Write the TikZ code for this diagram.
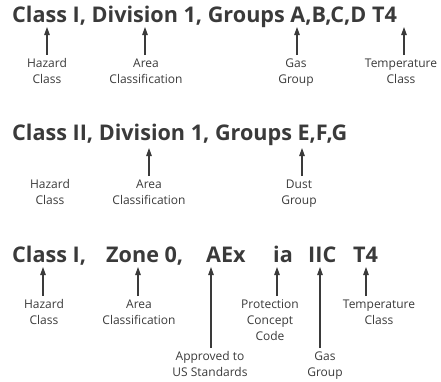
\documentclass[tikz,border=0pt]{standalone}
\usepackage{fontspec}
\setmainfont{Open Sans}
\usetikzlibrary{arrows.meta,positioning}
\definecolor{markgray}{RGB}{58,58,58}

\begin{document}
\begin{tikzpicture}[x=1pt,y=-1pt,
  title/.style={anchor=base west,inner sep=0,font=\fontsize{21.6}{26}\selectfont\bfseries,text=markgray},
  lbl/.style={anchor=base,inner sep=0,align=center,font=\fontsize{12}{16}\selectfont,text=markgray},
  arr/.style={-{Triangle[length=8pt,width=5.5pt]},line width=1.1pt,draw=markgray}]
  \useasboundingbox (0,0) rectangle (441,381);
  % Division system, gas
  \node[title] (t1) at (12,22.7) {Class I, Division 1, Groups A,B,C,D T4};
  \coordinate (c1-hz) at (47,27);
  \coordinate (c1-ar) at (145,27);
  \coordinate (c1-gg) at (297,27);
  \coordinate (c1-tc) at (404,27);
  \node[lbl] (hz1) at (47,83) {Hazard\\Class};
  \node[lbl] (ar1) at (146,83) {Area\\Classification};
  \node[lbl] (gg1) at (296,83) {Gas\\Group};
  \node[lbl] (tc1) at (401,83) {Temperature\\Class};
  \draw[arr] ([yshift=3pt]hz1.north -| c1-hz) -- (c1-hz);
  \draw[arr] ([yshift=3pt]ar1.north -| c1-ar) -- (c1-ar);
  \draw[arr] ([yshift=3pt]gg1.north -| c1-gg) -- (c1-gg);
  \draw[arr] ([yshift=3pt]tc1.north -| c1-tc) -- (c1-tc);
  % Division system, dust
  \node[title] (t2) at (12,140) {Class II, Division 1, Groups E,F,G};
  \coordinate (c2-ar) at (149,148);
  \coordinate (c2-dg) at (302,148);
  \node[lbl] (hz2) at (50,204) {Hazard\\Class};
  \node[lbl] (ar2) at (149,204) {Area\\Classification};
  \node[lbl] (dg2) at (299,204) {Dust\\Group};
  \draw[arr] ([yshift=3pt]ar2.north -| c2-ar) -- (c2-ar);
  \draw[arr] ([yshift=3pt]dg2.north -| c2-dg) -- (c2-dg);
  % Zone system
  \node[title] (w-cl) at (12,262) {Class I,};
  \node[title] (w-zn) at (106,262) {Zone 0,};
  \node[title] (w-ae) at (206,262) {AEx};
  \node[title] (w-ia) at (273,262) {ia};
  \node[title] (w-gg) at (308,262) {IIC};
  \node[title] (w-tc) at (353,262) {T4};
  \coordinate (c3-hz) at (43,267);
  \coordinate (c3-ar) at (138,267);
  \coordinate (c3-us) at (211,267);
  \coordinate (c3-pc) at (277,267);
  \coordinate (c3-gg) at (320,267);
  \coordinate (c3-tc) at (366,267);
  \node[lbl] (hz3) at (44,324) {Hazard\\Class};
  \node[lbl] (ar3) at (139,324) {Area\\Classification};
  \node[lbl] (pc3) at (270,340) {Protection\\Concept\\Code};
  \node[lbl] (tc3) at (379,324) {Temperature\\Class};
  \node[lbl] (us3) at (210,376) {Approved to\\US Standards};
  \node[lbl] (gg3) at (325,376) {Gas\\Group};
  \draw[arr] ([yshift=3pt]hz3.north -| c3-hz) -- (c3-hz);
  \draw[arr] ([yshift=3pt]ar3.north -| c3-ar) -- (c3-ar);
  \draw[arr] ([yshift=3pt]us3.north -| c3-us) -- (c3-us);
  \draw[arr] ([yshift=3pt]pc3.north -| c3-pc) -- (c3-pc);
  \draw[arr] ([yshift=3pt]gg3.north -| c3-gg) -- (c3-gg);
  \draw[arr] ([yshift=3pt]tc3.north -| c3-tc) -- (c3-tc);
\end{tikzpicture}
\end{document}
